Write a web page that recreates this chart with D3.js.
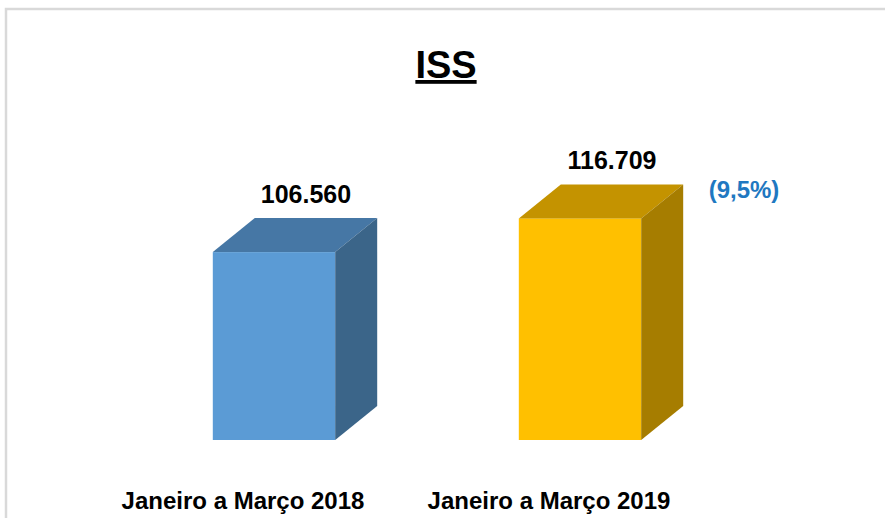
<!DOCTYPE html>
<html>
<head>
<meta charset="utf-8">
<script src="https://cdn.jsdelivr.net/npm/d3@7"></script>
<style>
    body { margin: 0; background: #fff; }
    svg { display: block; }
</style>
</head>
<body>
<div class="chart"></div>
<script>
// data
const chartTitle = "ISS";
const categories = ["Janeiro a Março 2018", "Janeiro a Março 2019"];
const values = [106560, 116709];
const valueLabels = ["106.560", "116.709"];
const changeLabel = "(9,5%)";

const frontColors = ["#5B9BD5", "#FFC000"];
const topColors = ["#4677A5", "#C49300"];
const sideColors = ["#3B6589", "#A67D00"];

const svgW = 885;
const svgH = 518;
const depth = {dx: 42, dy: 34};
const fontFamily = "'Liberation Sans', Arial, sans-serif";

const svg = d3.select("div.chart")
    .append("svg")
        .attr("width", svgW)
        .attr("height", svgH);

// chart area frame, runs off the right and bottom of the picture
svg.append("rect")
    .attr("x", 6)
    .attr("y", 9)
    .attr("width", svgW + 10)
    .attr("height", svgH + 10)
    .attr("fill", "#fff")
    .attr("stroke", "#D9D9D9")
    .attr("stroke-width", 2.5);

let x = d3.scaleBand()
    .domain(categories)
    .range([121, 733])
    .paddingInner(0.6)
    .paddingOuter(0.3);

let y = d3.scaleLinear()
    .domain([50000, 140000])
    .range([440, 141]);

let bars = svg.selectAll("g.bar")
    .data(values)
    .join("g")
    .attr("class", "bar");

// front face
bars.append("rect")
    .attr("x", (d, i) => x(categories[i]))
    .attr("y", d => y(d))
    .attr("width", x.bandwidth())
    .attr("height", d => y.range()[0] - y(d))
    .attr("fill", (d, i) => frontColors[i]);

// top face
bars.append("path")
    .attr("d", (d, i) => {
        let x0 = x(categories[i]), x1 = x0 + x.bandwidth(), yt = y(d);
        return `M${x0},${yt} L${x0 + depth.dx},${yt - depth.dy} L${x1 + depth.dx},${yt - depth.dy} L${x1},${yt} Z`;
    })
    .attr("fill", (d, i) => topColors[i]);

// side face
bars.append("path")
    .attr("d", (d, i) => {
        let x1 = x(categories[i]) + x.bandwidth(), yt = y(d), yb = y.range()[0];
        return `M${x1},${yt} L${x1 + depth.dx},${yt - depth.dy} L${x1 + depth.dx},${yb - depth.dy} L${x1},${yb} Z`;
    })
    .attr("fill", (d, i) => sideColors[i]);

// value labels
svg.selectAll("text.value")
    .data(values)
    .join("text")
    .attr("class", "value")
    .attr("x", (d, i) => x(categories[i]) + x.bandwidth() / 2 + 32)
    .attr("y", d => y(d) - depth.dy - 15)
    .attr("text-anchor", "middle")
    .attr("font-family", fontFamily)
    .attr("font-weight", "bold")
    .attr("font-size", 25)
    .attr("fill", "#000")
    .text((d, i) => valueLabels[i]);

svg.append("text")
    .attr("x", 744)
    .attr("y", 198)
    .attr("text-anchor", "middle")
    .attr("font-family", fontFamily)
    .attr("font-weight", "bold")
    .attr("font-size", 24)
    .attr("fill", "#1F78C1")
    .text(changeLabel);

// category labels
svg.selectAll("text.category")
    .data(categories)
    .join("text")
    .attr("class", "category")
    .attr("x", d => x(d) + x.bandwidth() / 2 - 31)
    .attr("y", 509)
    .attr("text-anchor", "middle")
    .attr("font-family", fontFamily)
    .attr("font-weight", "bold")
    .attr("font-size", 24)
    .attr("fill", "#000")
    .text(d => d);

svg.append("text")
    .attr("x", 446)
    .attr("y", 78)
    .attr("text-anchor", "middle")
    .attr("font-family", fontFamily)
    .attr("font-weight", "bold")
    .attr("font-size", 38)
    .attr("fill", "#000")
    .style("text-decoration", "underline")
    .text(chartTitle);
</script>
</body>
</html>
